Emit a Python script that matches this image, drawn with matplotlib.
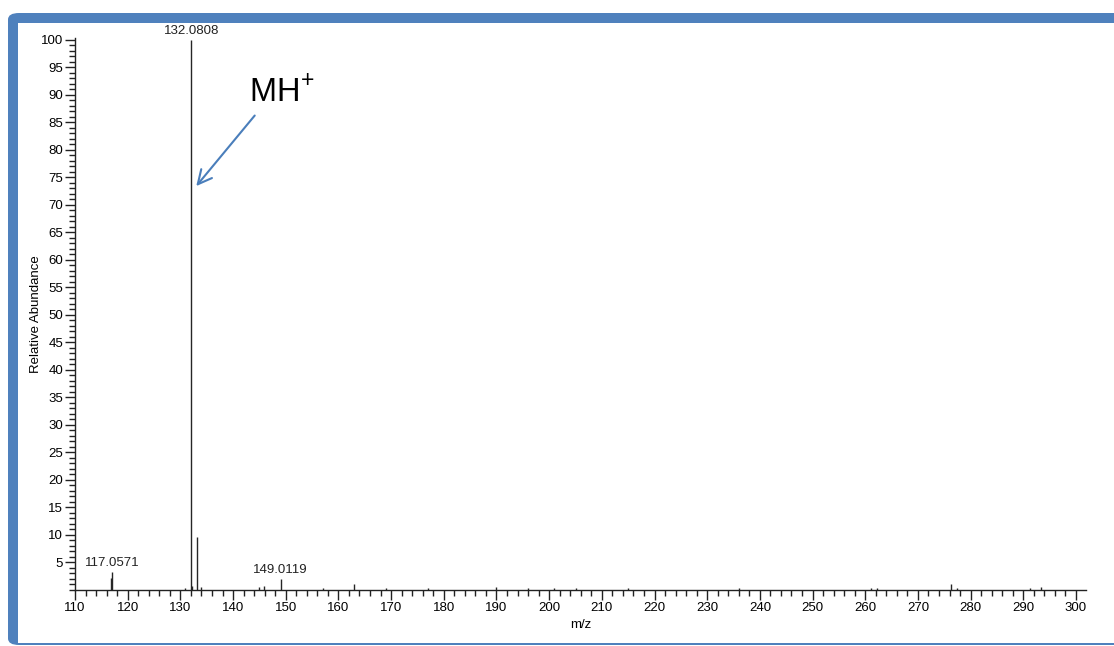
import matplotlib
matplotlib.use("Agg")
import matplotlib.pyplot as plt
from matplotlib.patches import FancyBboxPatch, Rectangle
from matplotlib.ticker import MultipleLocator

plt.rcParams['font.family'] = ['Liberation Sans', 'DejaVu Sans']
plt.rcParams['mathtext.fontset'] = 'custom'
plt.rcParams['mathtext.rm'] = 'Liberation Sans'

# ---- data ----
mz = [116.9, 117.06, 130.9, 132.08, 132.25, 133.08, 133.9, 144.9, 145.9,
      149.01, 157.0, 163.0, 169.0, 177.0, 190.0, 196.0, 200.9, 205.1, 215.0,
      236.0, 261.0, 262.2, 276.3, 277.4, 291.3, 293.3]
intensity = [2.2, 3.3, 0.3, 100, 0.7, 9.6, 0.5, 0.5, 0.8,
             2.0, 0.3, 1.0, 0.3, 0.3, 0.5, 0.3, 0.4, 0.3, 0.3,
             0.3, 0.3, 0.3, 1.1, 0.3, 0.3, 0.6]
peak_labels = [(117.06, 3.3, "117.0571"), (132.08, 100, "132.0808"), (149.01, 2.0, "149.0119")]
x_ticks = list(range(110, 301, 10))
y_ticks = list(range(5, 101, 5))

W, H = 1114, 646
fig = plt.figure(figsize=(W / 100, H / 100), dpi=100)

# blue frame
blue = '#4f81bd'
fig.patches.append(FancyBboxPatch((8 / W, (H - 645) / H), 1.2, (645 - 13) / H,
                                  boxstyle="round,pad=0,rounding_size=0.01",
                                  transform=fig.transFigure, facecolor=blue,
                                  edgecolor='none', zorder=0))
fig.patches.append(Rectangle((18 / W, (H - 643) / H), 1.2, (643 - 23) / H,
                             transform=fig.transFigure, facecolor='white',
                             edgecolor='none', zorder=0.5))

ax = fig.add_axes([75 / W, (H - 590) / H, (1086 - 75) / W, (590 - 38) / H])
ax.set_zorder(2)
ax.patch.set_alpha(0)
ax.vlines(mz, 0, intensity, color='#262626', linewidth=1.0)
ax.set_xlim(110, 301.9)
ax.set_ylim(0, 100.3)

fs = 9.5
ax.set_xticks(x_ticks)
ax.xaxis.set_minor_locator(MultipleLocator(2))
ax.set_yticks(y_ticks)
ax.yaxis.set_minor_locator(MultipleLocator(1))
ax.tick_params(axis='both', which='major', direction='out', length=7, width=1,
               labelsize=fs, color='#222222', pad=1.5)
ax.tick_params(axis='both', which='minor', direction='out', length=4, width=1,
               color='#222222')
for s in ['top', 'right']:
    ax.spines[s].set_visible(False)
for s in ['left', 'bottom']:
    ax.spines[s].set_color('#222222')
    ax.spines[s].set_linewidth(1)

ax.set_xlabel('m/z', fontsize=fs, labelpad=4)
ax.set_ylabel('Relative Abundance', fontsize=fs, labelpad=-1)

for x, y, t in peak_labels:
    ax.annotate(t, (x, y), xytext=(0, 2), textcoords='offset points',
                ha='center', va='bottom', fontsize=fs, color='#222222')

ax.annotate('', xy=(132.68, 73.0), xytext=(144.45, 86.6),
            arrowprops=dict(arrowstyle='->,head_length=1.0,head_width=0.5',
                            color='#4a7ebb', lw=1.5))
ax.text(143.0, 87.5, 'MH$^{+}$', fontsize=23.5, ha='left', va='bottom', color='black')

fig.savefig('out.png', dpi=100)
